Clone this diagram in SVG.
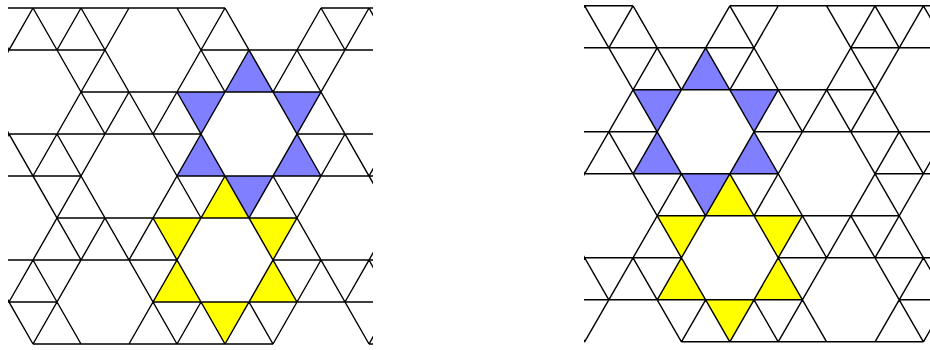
<svg xmlns="http://www.w3.org/2000/svg" xmlns:xlink="http://www.w3.org/1999/xlink" width="930" height="350" viewBox="0 0 930 350">
<style>
.edge{fill:none;stroke:#000;stroke-width:1.4}
.blue{fill:#7f7fff}
.yellow{fill:#ffff00}
</style>
<defs>
<clipPath id="clipL"><rect x="8" y="0" width="365" height="350"/></clipPath>
<clipPath id="clipR"><rect x="584" y="0" width="346" height="350"/></clipPath>
<g id="lattice">
<g id="tiles">
<polygon class="blue" points="249,50 225,92 273,92"/>
<polygon class="blue" points="177,92 225,92 201,134"/>
<polygon class="blue" points="273,92 321,92 297,134"/>
<polygon class="blue" points="201,134 177,176 225,176"/>
<polygon class="blue" points="297,134 273,176 321,176"/>
<polygon class="blue" points="225,176 273,176 249,218"/>
<polygon class="yellow" points="225,176 201,218 249,218"/>
<polygon class="yellow" points="153,218 201,218 177,260"/>
<polygon class="yellow" points="249,218 297,218 273,260"/>
<polygon class="yellow" points="177,260 153,302 201,302"/>
<polygon class="yellow" points="273,260 249,302 297,302"/>
<polygon class="yellow" points="201,302 249,302 225,344"/>
</g>
<path id="edges" class="edge" d="M-15 8H225M321 8H417M-39 50H105M201 50H441M81 92H321M-39 134H201M297 134H441M-15 176H81M177 176H417M57 218H297M-15 260H177M273 260H417M-39 302H57M153 302H393M33 344H273M369 344H417
M-63 176L33 344M33 260L81 344M-39 50L81 260M-15 8L9 50M57 134L177 344M33 8L105 134M153 218L225 344M81 8L201 218M249 302L273 344M177 92L297 302M177 8L225 92M273 176L369 344M225 8L321 176M369 260L417 344M297 50L417 260M321 8L345 50M369 8L441 134
M33 8L-87 218M81 8L57 50M9 134L-111 344M129 8L33 176M129 92L9 302M225 8L153 134M105 218L33 344M249 50L129 260M321 8L273 92M225 176L129 344M369 8L249 218M201 302L177 344M345 134L225 344M465 8L369 176M321 260L273 344M465 92L345 302M441 218L369 344"/>
</g>
</defs>
<g id="panel-left" clip-path="url(#clipL)">
<use xlink:href="#lattice"/>
</g>
<g id="panel-right" clip-path="url(#clipR)">
<use xlink:href="#lattice" transform="matrix(-1.00833 0 0 1 956.7 -2.2)"/>
</g>
</svg>
